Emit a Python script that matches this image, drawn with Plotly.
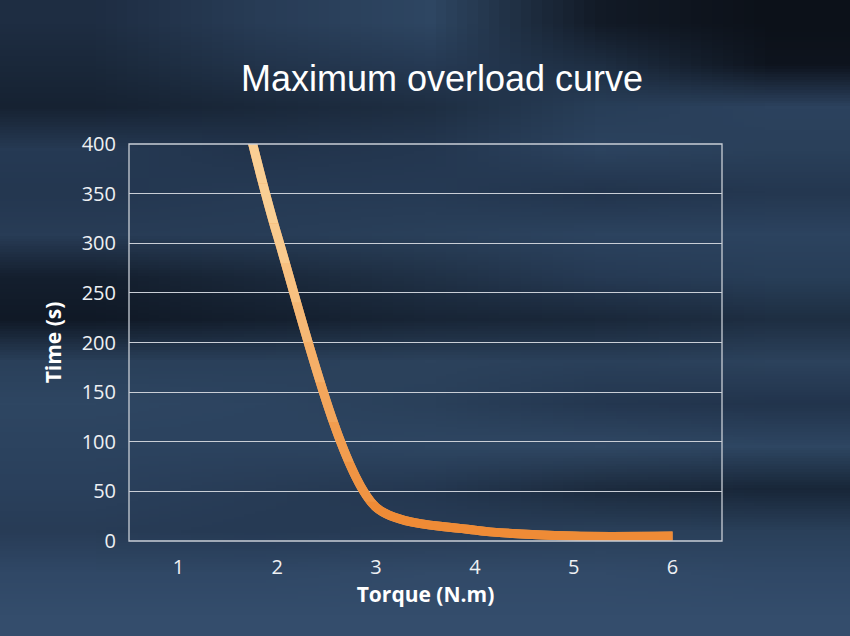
import base64
import struct
import zlib

import plotly.graph_objects as go

# ---- data ----
torque = [1, 2, 3, 4, 5, 6]
time_s = [720, 308, 34, 11, 5, 5]
y_ticks = [0, 50, 100, 150, 200, 250, 300, 350, 400]
x_ticks = [1, 2, 3, 4, 5, 6]

title_text = "Maximum overload curve"
x_title = "Torque (N.m)"
y_title = "Time (s)"

# ---- style ----
W, H = 850, 636
L, R, T, B = 129, 128, 144, 95
PW, PH = W - L - R, H - T - B
Y_MAX = 400
N_BANDS = 10
SMOOTH = 0.75
c_bottom = (238, 134, 48)
c_top = (250, 207, 148)


def band_color(t):
    r = [round(c_bottom[i] + (c_top[i] - c_bottom[i]) * t) for i in range(3)]
    return f"rgb({r[0]},{r[1]},{r[2]})"


# soft background: tiny colour grid (rows top->bottom, 5 columns) stretched by the browser
bg_rows = [
    [(30, 45, 66), (40, 60, 86), (46, 70, 98), (18, 26, 38), (12, 17, 25)],
    [(26, 40, 58), (34, 52, 75), (38, 58, 84), (30, 46, 66), (14, 20, 30)],
    [(22, 34, 50), (26, 40, 58), (30, 46, 66), (40, 62, 88), (44, 66, 94)],
    [(38, 58, 84), (34, 52, 76), (36, 55, 80), (44, 67, 95), (42, 64, 90)],
    [(36, 55, 80), (38, 58, 84), (38, 58, 84), (34, 52, 76), (36, 55, 80)],
    [(40, 60, 86), (40, 61, 87), (42, 64, 90), (44, 67, 95), (44, 67, 95)],
    [(20, 31, 46), (26, 40, 58), (32, 49, 70), (38, 58, 84), (40, 62, 88)],
    [(16, 25, 38), (20, 31, 46), (24, 37, 54), (26, 40, 58), (30, 46, 66)],
    [(42, 64, 90), (42, 64, 90), (44, 66, 92), (42, 64, 90), (44, 66, 92)],
    [(46, 70, 98), (45, 68, 96), (42, 64, 90), (36, 55, 80), (34, 52, 76)],
    [(44, 67, 95), (44, 67, 95), (46, 70, 98), (48, 72, 100), (46, 70, 98)],
    [(42, 64, 92), (40, 60, 86), (36, 55, 80), (28, 43, 62), (24, 38, 56)],
    [(40, 60, 86), (38, 58, 84), (40, 60, 86), (42, 64, 90), (42, 64, 90)],
    [(48, 72, 102), (48, 72, 102), (50, 74, 104), (50, 74, 104), (48, 72, 102)],
    [(52, 77, 108), (52, 77, 108), (52, 77, 108), (52, 77, 108), (52, 77, 108)],
]


def png_data_uri(rows):
    h = len(rows)
    w = len(rows[0])
    raw = b"".join(b"\x00" + bytes([c for px in row for c in px]) for row in rows)

    def chunk(tag, data):
        c = struct.pack(">I", len(data)) + tag + data
        return c + struct.pack(">I", zlib.crc32(tag + data) & 0xFFFFFFFF)

    png = (b"\x89PNG\r\n\x1a\n"
           + chunk(b"IHDR", struct.pack(">IIBBBBB", w, h, 8, 2, 0, 0, 0))
           + chunk(b"IDAT", zlib.compress(raw, 9))
           + chunk(b"IEND", b""))
    return "data:image/png;base64," + base64.b64encode(png).decode()


fig = go.Figure()

# base trace on the main axes (also fills any seams between colour bands)
fig.add_trace(go.Scatter(
    x=torque, y=time_s, mode="lines", xaxis="x", yaxis="y",
    line=dict(shape="spline", smoothing=SMOOTH, width=9, color=band_color(0.35)),
    hoverinfo="skip"))

layout = dict(
    width=W, height=H,
    margin=dict(l=L, r=R, t=T, b=B),
    paper_bgcolor="#263b56",
    plot_bgcolor="rgba(0,0,0,0)",
    showlegend=False,
    font=dict(family="Open Sans", color="#eef0f3", size=20),
    title=dict(text=title_text, x=442 / W, xref="container", xanchor="center",
               y=1 - 78 / H, yref="container", yanchor="middle",
               font=dict(family="Liberation Sans", size=36, color="#ffffff")),
    xaxis=dict(range=[0.5, 6.5], tickvals=x_ticks, ticktext=[str(v) for v in x_ticks],
               showgrid=False, zeroline=False, showline=False, ticks="",
               ticklabelstandoff=12, anchor="y", domain=[0, 1],
               title=dict(text=f"<b>{x_title}</b>", standoff=4,
                          font=dict(size=21, color="#ffffff"))),
    yaxis=dict(range=[0, Y_MAX], tickvals=y_ticks, domain=[0, 1], anchor="x",
               showgrid=True, gridcolor="#c9ced6", gridwidth=1.3,
               zeroline=False, showline=False, ticks="", ticklabelstandoff=12,
               title=dict(text=f"<b>{y_title}</b>", standoff=14,
                          font=dict(size=21, color="#ffffff"))),
    images=[dict(source=png_data_uri(bg_rows), xref="paper", yref="paper",
                 x=-L / PW, y=1 + T / PH, sizex=W / PW, sizey=H / PH,
                 xanchor="left", yanchor="top", sizing="stretch", layer="below")],
)

band = Y_MAX / N_BANDS
for k in range(N_BANDS):
    ax = f"yaxis{k + 2}"
    layout[ax] = dict(range=[k * band, (k + 1) * band],
                      domain=[k / N_BANDS, (k + 1) / N_BANDS],
                      anchor="x", visible=False, showgrid=False, zeroline=False,
                      fixedrange=True)
    fig.add_trace(go.Scatter(
        x=torque, y=time_s, mode="lines", xaxis="x", yaxis=f"y{k + 2}",
        line=dict(shape="spline", smoothing=SMOOTH, width=9,
                  color=band_color(min(1.0, (k + 0.5) / (N_BANDS * 0.8)))),
        hoverinfo="skip"))

layout["shapes"] = [
    dict(type="rect", xref="paper", yref="paper", x0=0, x1=1, y0=0, y1=1,
         line=dict(color="#c9ced6", width=1.3), layer="above"),
]
fig.update_layout(**layout)
fig.write_html("out.html", config={"displayModeBar": False},
               post_script="document.body.style.margin='0px';")
